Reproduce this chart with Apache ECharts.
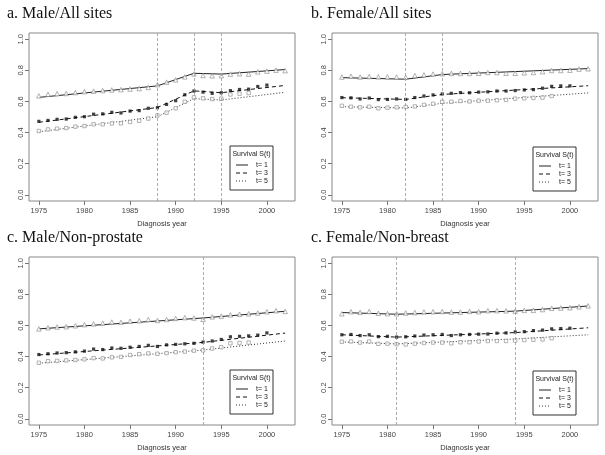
<!DOCTYPE html>
<html><head><meta charset="utf-8">
<script src="https://cdn.jsdelivr.net/npm/echarts@6/dist/echarts.min.js"></script>
<style>html,body{margin:0;padding:0;background:#fff}#c{width:605px;height:455px}</style>
</head><body><div id="c"></div>
<script>
// ---- shared ----
const years = [1975,1976,1977,1978,1979,1980,1981,1982,1983,1984,1985,1986,1987,1988,1989,1990,1991,1992,1993,1994,1995,1996,1997,1998,1999,2000,2001,2002];
const xTicks = [1975,1980,1985,1990,1995,2000];
const yTicks = [0,0.2,0.4,0.6,0.8,1.0];
const panelTitles = ['a. Male/All sites','b. Female/All sites','c. Male/Non-prostate','c. Female/Non-breast'];
const xName = 'Diagnosis year';
const legendTitle = 'Survival S(t)';
const legendLabels = ['t= 1','t= 3','t= 5'];

// ---- panel a: Male/All sites ----
const aJoin = [1975,1988,1992,1995,2002];
const aFit1 = [0.626,0.700,0.781,0.776,0.805];
const aFit3 = [0.466,0.561,0.668,0.656,0.703];
const aFit5 = [0.405,0.502,0.618,0.609,0.659];
const aObs1 = [0.636,0.646,0.650,0.651,0.657,0.663,0.666,0.670,0.674,0.676,0.680,0.683,0.690,0.708,0.724,0.739,0.758,0.777,0.767,0.765,0.766,0.776,0.778,0.776,0.790,0.795,0.801,0.798];
const aObs3 = [0.472,0.478,0.485,0.487,0.498,0.502,0.518,0.520,0.530,0.526,0.538,0.541,0.556,0.560,0.581,0.605,0.643,0.667,0.660,0.652,0.656,0.669,0.677,0.679,0.696,0.705];
const aObs5 = [0.410,0.420,0.425,0.429,0.438,0.442,0.453,0.453,0.459,0.459,0.468,0.476,0.490,0.510,0.528,0.556,0.598,0.626,0.620,0.615,0.618,0.645,0.650,0.654];

// ---- panel b: Female/All sites ----
const bJoin = [1975,1982,1986,2002];
const bFit1 = [0.753,0.743,0.773,0.811];
const bFit3 = [0.624,0.613,0.645,0.701];
const bFit5 = [0.566,0.558,0.588,0.655];
const bObs1 = [0.757,0.762,0.757,0.760,0.758,0.758,0.757,0.755,0.766,0.771,0.776,0.778,0.780,0.780,0.780,0.781,0.786,0.786,0.781,0.781,0.784,0.786,0.791,0.799,0.799,0.801,0.808,0.810];
const bObs3 = [0.625,0.623,0.616,0.622,0.612,0.613,0.616,0.613,0.625,0.635,0.642,0.648,0.652,0.657,0.656,0.660,0.662,0.667,0.667,0.670,0.674,0.676,0.685,0.697,0.700,0.700];
const bObs5 = [0.572,0.566,0.562,0.566,0.556,0.560,0.562,0.565,0.568,0.578,0.585,0.598,0.598,0.603,0.600,0.605,0.605,0.608,0.610,0.618,0.620,0.623,0.625,0.635];

// ---- panel c: Male/Non-prostate ----
const cJoin = [1975,1993,2002];
const cFit1 = [0.578,0.648,0.691];
const cFit3 = [0.410,0.491,0.551];
const cFit5 = [0.357,0.442,0.500];
const cObs1 = [0.578,0.585,0.590,0.592,0.598,0.605,0.610,0.615,0.622,0.620,0.627,0.630,0.638,0.632,0.638,0.645,0.650,0.648,0.640,0.655,0.660,0.668,0.672,0.675,0.680,0.688,0.695,0.690];
const cObs3 = [0.413,0.418,0.423,0.425,0.430,0.435,0.448,0.445,0.455,0.453,0.460,0.465,0.472,0.465,0.475,0.478,0.482,0.485,0.493,0.500,0.510,0.527,0.530,0.533,0.538,0.552];
const cObs5 = [0.360,0.370,0.372,0.375,0.378,0.382,0.390,0.388,0.395,0.398,0.410,0.415,0.420,0.418,0.422,0.428,0.432,0.438,0.440,0.452,0.460,0.485,0.487,0.490];

// ---- panel d: Female/Non-breast ----
const dJoin = [1975,1981,1994,2002];
const dFit1 = [0.683,0.672,0.692,0.725];
const dFit3 = [0.540,0.525,0.554,0.585];
const dFit5 = [0.494,0.481,0.513,0.540];
const dObs1 = [0.675,0.688,0.684,0.690,0.678,0.676,0.675,0.680,0.683,0.687,0.688,0.690,0.686,0.686,0.690,0.688,0.695,0.695,0.694,0.692,0.697,0.697,0.702,0.710,0.712,0.714,0.720,0.726];
const dObs3 = [0.540,0.542,0.535,0.540,0.528,0.530,0.525,0.527,0.532,0.538,0.540,0.542,0.535,0.540,0.542,0.544,0.545,0.550,0.552,0.558,0.560,0.567,0.570,0.578,0.580,0.582];
const dObs5 = [0.495,0.497,0.490,0.497,0.482,0.483,0.480,0.478,0.483,0.487,0.490,0.490,0.485,0.492,0.492,0.497,0.500,0.500,0.500,0.503,0.506,0.508,0.510,0.518];

const panels = [
  {join:aJoin, fit:[aFit1,aFit3,aFit5], obs:[aObs1,aObs3,aObs5]},
  {join:bJoin, fit:[bFit1,bFit3,bFit5], obs:[bObs1,bObs3,bObs5]},
  {join:cJoin, fit:[cFit1,cFit3,cFit5], obs:[cObs1,cObs3,cObs5]},
  {join:dJoin, fit:[dFit1,dFit3,dFit5], obs:[dObs1,dObs3,dObs5]}
];

// ---- layout ----
const gridPos = [
  {left:29, top:33, width:266, height:168},
  {left:332, top:33, width:266, height:168},
  {left:29, top:257, width:266, height:168},
  {left:332, top:257, width:266, height:168}
];
const titlePos = [{left:7, top:6},{left:311, top:6},{left:7, top:230},{left:311, top:230}];
const legendPos = [{x:230,y:146},{x:533,y:147},{x:230,y:370},{x:533,y:371}];

const lineTypes = ['solid', [4,3], [1,2]];
const lineColors = ['#222','#111','#333'];
const fontSans = 'Liberation Sans, Arial, sans-serif';

const option = {
  backgroundColor:'#fff',
  animation:false,
  title: panelTitles.map((t,i)=>({text:t, left:titlePos[i].left, top:titlePos[i].top, padding:0,
    textStyle:{fontFamily:'Liberation Serif, Times New Roman, serif', fontWeight:'normal', fontSize:16, color:'#111'}})),
  grid: gridPos.map(g=>Object.assign({show:true, borderColor:'#888', borderWidth:1, containLabel:false}, g)),
  xAxis: gridPos.map((g,i)=>({
    type:'value', gridIndex:i, min:1973.92, max:2003.08,
    name:xName, nameLocation:'middle', nameGap:19,
    nameTextStyle:{fontFamily:fontSans, fontSize:7.5, color:'#333'},
    axisLine:{show:false, onZero:false},
    axisTick:{show:true, inside:false, length:4, lineStyle:{color:'#777'}, customValues:xTicks},
    axisLabel:{fontFamily:fontSans, fontSize:7.5, color:'#444', margin:6, customValues:xTicks, formatter:v=>String(v)},
    splitLine:{show:false}
  })),
  yAxis: gridPos.map((g,i)=>({
    type:'value', gridIndex:i, min:-0.04, max:1.04,
    axisLine:{show:false, onZero:false},
    axisTick:{show:true, inside:false, length:4, lineStyle:{color:'#777'}, customValues:yTicks},
    axisLabel:{fontFamily:fontSans, fontSize:7.5, color:'#444', margin:4, rotate:90, customValues:yTicks, formatter:v=>v.toFixed(1)},
    splitLine:{show:false}
  })),
  series: [],
  graphic: []
};

panels.forEach((p,i)=>{
  p.fit.forEach((f,k)=>{
    const s = {
      type:'line', xAxisIndex:i, yAxisIndex:i, symbol:'none', z:3,
      data: p.join.map((yr,j)=>[yr, f[j]]),
      lineStyle:{color:lineColors[k], width:1, type:lineTypes[k]}
    };
    if(k===0){
      s.markLine = {silent:true, symbol:'none', label:{show:false},
        lineStyle:{color:'#999', width:0.8, type:[3,2]},
        data: p.join.slice(1,-1).map(yr=>({xAxis:yr}))};
    }
    option.series.push(s);
  });
  option.series.push({type:'scatter', xAxisIndex:i, yAxisIndex:i, symbol:'triangle', symbolSize:4.5, z:4,
    data:p.obs[0].map((v,j)=>[years[j],v]),
    itemStyle:{color:'#fff', borderColor:'#888', borderWidth:0.8}});
  option.series.push({type:'scatter', xAxisIndex:i, yAxisIndex:i, symbol:'rect', symbolSize:3.2, z:4,
    data:p.obs[1].map((v,j)=>[years[j],v]),
    itemStyle:{color:'#111'}});
  option.series.push({type:'scatter', xAxisIndex:i, yAxisIndex:i, symbol:'rect', symbolSize:3.4, z:4,
    data:p.obs[2].map((v,j)=>[years[j],v]),
    itemStyle:{color:'#fff', borderColor:'#888', borderWidth:0.8}});

  const L = legendPos[i];
  option.graphic.push({type:'rect', shape:{x:L.x, y:L.y, width:43, height:44},
    style:{fill:'#fff', stroke:'#333', lineWidth:1}, z:10});
  option.graphic.push({type:'text', x:L.x+21.5, y:L.y+8, z:11,
    style:{text:legendTitle, fontFamily:fontSans, fontSize:7, fill:'#222', align:'center', verticalAlign:'middle'}});
  legendLabels.forEach((lab,k)=>{
    const yy = L.y + 19 + k*8;
    option.graphic.push({type:'line', shape:{x1:L.x+6, y1:yy, x2:L.x+18, y2:yy}, z:11,
      style:{stroke:lineColors[k], lineWidth:1, lineDash: k===0 ? null : lineTypes[k]}});
    option.graphic.push({type:'text', x:L.x+26, y:yy, z:11,
      style:{text:lab, fontFamily:fontSans, fontSize:7, fill:'#222', align:'left', verticalAlign:'middle'}});
  });
});

const chart = echarts.init(document.getElementById('c'), null, {renderer:'canvas'});
chart.setOption(option);
</script>
</body></html>
